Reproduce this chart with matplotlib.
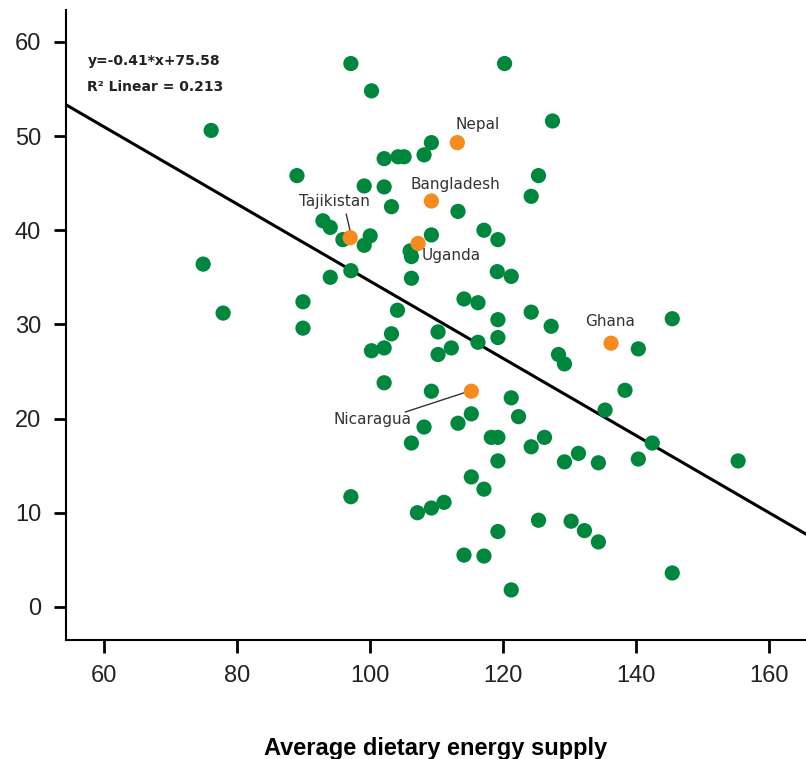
import numpy as np
import matplotlib.pyplot as plt

plt.rcParams['font.family'] = ['Liberation Sans', 'DejaVu Sans']

# other countries (green)
x_other = [97.1, 120.2, 100.2, 76.1, 127.4, 109.2, 108.1, 104.2, 105.1, 102.1,
           89.0, 125.3, 99.1, 102.1, 103.2, 113.2, 124.2, 92.9, 94.0, 95.9,
           100.0, 99.1, 109.2, 106.0, 106.2, 117.1, 119.2, 119.1, 121.2, 106.2,
           97.1, 94.0, 74.9, 77.9, 89.9, 89.9, 104.1, 114.1, 116.2, 119.2,
           124.2, 127.2, 110.2, 103.2, 100.2, 102.1, 110.2, 112.2, 116.2, 119.2,
           128.3, 129.2, 140.3, 145.4, 102.1, 109.2, 121.2, 138.3, 135.3, 142.4,
           140.3, 155.3, 122.3, 115.2, 113.2, 108.1, 106.2, 118.2, 119.2, 126.2,
           124.2, 119.2, 129.2, 131.3, 134.3, 97.1, 115.2, 117.1, 107.1, 109.2,
           111.1, 119.2, 125.3, 130.2, 132.2, 134.3, 114.1, 117.1, 121.2, 145.4]
y_other = [57.7, 57.7, 54.8, 50.6, 51.6, 49.3, 48.0, 47.8, 47.8, 47.6,
           45.8, 45.8, 44.7, 44.6, 42.5, 42.0, 43.6, 41.0, 40.3, 39.0,
           39.4, 38.4, 39.5, 37.8, 37.2, 40.0, 39.0, 35.6, 35.1, 34.9,
           35.7, 35.0, 36.4, 31.2, 32.4, 29.6, 31.5, 32.7, 32.3, 30.5,
           31.3, 29.8, 29.2, 29.0, 27.2, 27.5, 26.8, 27.5, 28.1, 28.6,
           26.8, 25.8, 27.4, 30.6, 23.8, 22.9, 22.2, 23.0, 20.9, 17.4,
           15.7, 15.5, 20.2, 20.5, 19.5, 19.1, 17.4, 18.0, 18.0, 18.0,
           17.0, 15.5, 15.4, 16.3, 15.3, 11.7, 13.8, 12.5, 10.0, 10.5,
           11.1, 8.0, 9.2, 9.1, 8.1, 6.9, 5.5, 5.4, 1.8, 3.6]

# highlighted countries (orange)
names = ['Nepal', 'Bangladesh', 'Tajikistan', 'Uganda', 'Ghana', 'Nicaragua']
x_hi = [113.1, 109.2, 97.0, 107.2, 136.2, 115.2]
y_hi = [49.3, 43.1, 39.2, 38.6, 28.0, 22.9]

slope, intercept, r2 = -0.41, 75.58, 0.213

fig = plt.figure(figsize=(8.06, 7.59), dpi=100)
ax = fig.add_axes([0.082, 0.157, 0.918, 0.83])

ax.scatter(x_other, y_other, s=120, color='#00873e', edgecolors='none', zorder=3)
ax.scatter(x_hi, y_hi, s=120, color='#f58a1f', edgecolors='none', zorder=4)

ax.set_xlim(54.3, 165.5)
ax.set_ylim(-3.5, 63.4)
xx = np.array(ax.get_xlim())
ax.plot(xx, slope * xx + intercept, color='black', lw=2.2, zorder=2)

lab = dict(fontsize=11, color='#333333', family=['DejaVu Sans'], zorder=5)
ax.text(116.1, 51.2, 'Nepal', ha='center', va='center', **lab)
ax.text(112.8, 44.9, 'Bangladesh', ha='center', va='center', **lab)
ax.text(94.6, 43.0, 'Tajikistan', ha='center', va='center', **lab)
ax.text(107.8, 37.3, 'Uganda', ha='left', va='center', **lab)
ax.text(136.1, 30.3, 'Ghana', ha='center', va='center', **lab)
ax.text(100.3, 19.9, 'Nicaragua', ha='center', va='center', **lab)
ax.plot([96.4, 97.0], [41.7, 39.9], color='#333333', lw=1)
ax.plot([105.3, 114.4], [20.7, 22.8], color='#333333', lw=1)

ax.text(57.5, 57.5, 'y=-0.41*x+75.58', fontsize=10, fontweight='bold',
        family=['DejaVu Sans'], color='#222222')
ax.text(57.5, 54.8, 'R² Linear = %.3f' % r2, fontsize=10, fontweight='bold',
        family=['DejaVu Sans'], color='#222222')

ax.set_xticks([60, 80, 100, 120, 140, 160])
ax.set_yticks([0, 10, 20, 30, 40, 50, 60])
ax.tick_params(length=9, width=2, labelsize=17, pad=9, labelcolor='#222222')
for side in ['top', 'right']:
    ax.spines[side].set_visible(False)
for side in ['left', 'bottom']:
    ax.spines[side].set_linewidth(1.5)
ax.set_xlabel('Average dietary energy supply', fontsize=17, fontweight='bold',
              labelpad=36)

fig.savefig('out.png', dpi=100)
